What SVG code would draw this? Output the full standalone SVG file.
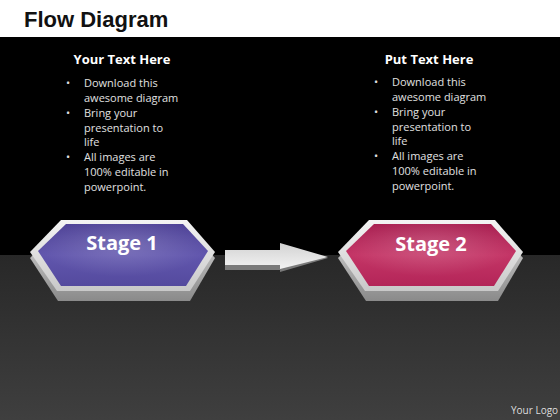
<svg xmlns="http://www.w3.org/2000/svg" width="560" height="420" viewBox="0 0 560 420">
<defs>
<linearGradient id="floor" x1="0" y1="0" x2="0" y2="1"><stop offset="0" stop-color="#282828"/><stop offset="1" stop-color="#3f3f3f"/></linearGradient>
<linearGradient id="side" x1="0" y1="0" x2="0" y2="1"><stop offset="0" stop-color="#d8d8d8"/><stop offset="1" stop-color="#8a8a8a"/></linearGradient>
<linearGradient id="rim" x1="0" y1="0" x2="0" y2="1"><stop offset="0" stop-color="#f4f4f4"/><stop offset="1" stop-color="#c8c8c8"/></linearGradient>
<linearGradient id="purple" x1="0" y1="0" x2="0" y2="1"><stop offset="0" stop-color="#4d4196"/><stop offset="0.5" stop-color="#6156ad"/><stop offset="1" stop-color="#544a9e"/></linearGradient>
<linearGradient id="crimson" x1="0" y1="0" x2="0" y2="1"><stop offset="0" stop-color="#a81e50"/><stop offset="0.5" stop-color="#c43566"/><stop offset="1" stop-color="#b32558"/></linearGradient>
<linearGradient id="arrowTop" x1="0" y1="0" x2="0" y2="1"><stop offset="0" stop-color="#d2d2d2"/><stop offset="1" stop-color="#f2f2f2"/></linearGradient>
<radialGradient id="glow" cx="0.5" cy="0.35" r="0.5"><stop offset="0" stop-color="#fff" stop-opacity="0.18"/><stop offset="1" stop-color="#fff" stop-opacity="0"/></radialGradient>
</defs>
<style>
.title{font-family:"Liberation Sans",Arial,sans-serif;font-weight:bold;font-size:22px;fill:#111}
.head{font-family:"Open Sans","Liberation Sans",sans-serif;font-weight:bold;font-size:13px;fill:#fff}
.body{font-family:"Open Sans","Liberation Sans",sans-serif;font-size:11px;fill:#e0e0e0}
.stage{font-family:"Open Sans","Liberation Sans",sans-serif;font-weight:bold;font-size:20px;fill:#fff}
.logo{font-family:"Open Sans","Liberation Sans",sans-serif;font-size:10px;fill:#ddd}
</style>
<rect x="0" y="0" width="560" height="37" fill="#ffffff"/>
<rect x="0" y="37" width="560" height="218" fill="#000000"/>
<rect x="0" y="255" width="560" height="165" fill="url(#floor)"/>
<text class="title" x="24" y="27">Flow Diagram</text>

<g id="text1">
<text class="head" x="122" y="64" text-anchor="middle">Your Text Here</text>
<text class="body"><tspan x="66" y="87">•</tspan><tspan x="84" y="87">Download this</tspan><tspan x="84" y="102">awesome diagram</tspan><tspan x="66" y="117">•</tspan><tspan x="84" y="117">Bring your</tspan><tspan x="84" y="132">presentation to</tspan><tspan x="84" y="146">life</tspan><tspan x="66" y="161">•</tspan><tspan x="84" y="161">All images are</tspan><tspan x="84" y="176">100% editable in</tspan><tspan x="84" y="191">powerpoint.</tspan></text>
</g>
<g id="text2">
<text class="head" x="429" y="64" text-anchor="middle">Put Text Here</text>
<text class="body"><tspan x="374" y="86">•</tspan><tspan x="392" y="86">Download this</tspan><tspan x="392" y="101">awesome diagram</tspan><tspan x="374" y="116">•</tspan><tspan x="392" y="116">Bring your</tspan><tspan x="392" y="131">presentation to</tspan><tspan x="392" y="145">life</tspan><tspan x="374" y="160">•</tspan><tspan x="392" y="160">All images are</tspan><tspan x="392" y="175">100% editable in</tspan><tspan x="392" y="190">powerpoint.</tspan></text>
</g>

<g id="stage1">
<polygon points="30,258 60,228 188,228 215,258 190,301 58,301" fill="url(#side)"/>
<polygon points="30,252 61,220 187,220 215,252 190,291 57,291" fill="url(#rim)"/>
<polygon points="38,251 66,224 183,224 208,251 186,286 61,286" fill="url(#purple)"/>
<polygon points="38,251 66,224 183,224 208,251 186,286 61,286" fill="url(#glow)"/>
<text class="stage" x="122" y="250" text-anchor="middle">Stage 1</text>
</g>

<g id="stage2">
<polygon points="338,258 368,228 496,228 523,258 498,301 366,301" fill="url(#side)"/>
<polygon points="338,252 369,220 495,220 523,252 498,291 365,291" fill="url(#rim)"/>
<polygon points="346,251 374,224 491,224 516,251 494,286 369,286" fill="url(#crimson)"/>
<polygon points="346,251 374,224 491,224 516,251 494,286 369,286" fill="url(#glow)"/>
<text class="stage" x="431" y="251" text-anchor="middle">Stage 2</text>
</g>

<g id="connectors">
<polygon points="225,256 280,256 280,252 328,258 280,272 280,270 225,270" fill="#7a7a7a"/>
<polygon points="225,250 280,250 280,243 328,257 280,269 280,265 225,265" fill="url(#arrowTop)"/>
</g>

<text class="logo" x="511" y="414">Your Logo</text>
</svg>
